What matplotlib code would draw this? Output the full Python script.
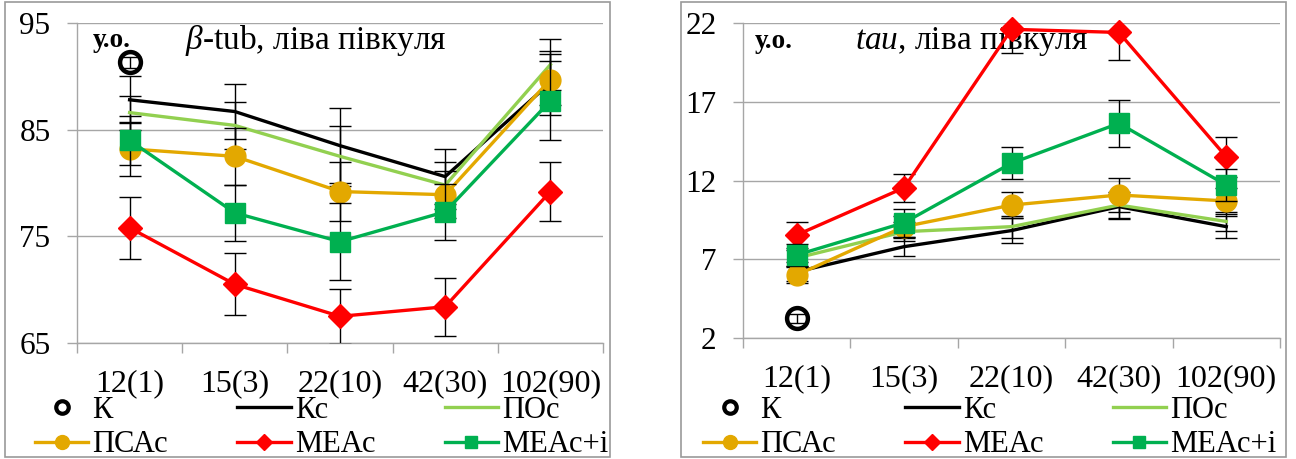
import matplotlib
matplotlib.use('Agg')
import matplotlib.pyplot as plt
from matplotlib.lines import Line2D
from matplotlib.patches import Rectangle

plt.rcParams['font.family'] = ['Liberation Serif', 'DejaVu Serif']
plt.rcParams['mathtext.fontset'] = 'custom'
plt.rcParams['mathtext.it'] = 'Liberation Serif:italic'
plt.rcParams['mathtext.rm'] = 'Liberation Serif'

CATS = ['12(1)', '15(3)', '22(10)', '42(30)', '102(90)']
X = [1, 2, 3, 4, 5]

# beta-tub, left hemisphere
TUB_K = [91.3]
TUB_K_ERR = [0.5]
TUB_KC = [87.8, 86.7, 83.5, 80.6, 89.4]
TUB_KC_ERR = [2.2, 2.6, 3.5, 2.6, 3.0]
TUB_POC = [86.6, 85.4, 82.5, 79.8, 91.1]
TUB_POC_ERR = [1.6, 2.2, 2.8, 2.2, 2.4]
TUB_PSAC = [83.2, 82.5, 79.2, 78.9, 89.7]
TUB_PSAC_ERR = [2.5, 2.7, 2.8, 2.2, 2.4]
TUB_MEAC = [75.8, 70.5, 67.5, 68.4, 79.2]
TUB_MEAC_ERR = [2.9, 2.9, 2.6, 2.7, 2.8]
TUB_MEACI = [84.0, 77.2, 74.5, 77.3, 87.7]
TUB_MEACI_ERR = [2.3, 2.6, 3.6, 2.6, 3.7]

# tau, left hemisphere
TAU_K = [3.25]
TAU_K_ERR = [0.3]
TAU_KC = [6.2, 7.8, 8.82, 10.34, 9.07]
TAU_KC_ERR = [0.6, 0.6, 0.8, 0.8, 0.7]
TAU_POC = [7.08, 8.75, 9.07, 10.44, 9.4]
TAU_POC_ERR = [0.5, 0.6, 0.7, 0.8, 0.6]
TAU_PSAC = [6.0, 9.07, 10.44, 11.08, 10.7]
TAU_PSAC_ERR = [0.5, 0.7, 0.8, 1.06, 0.8]
TAU_MEAC = [8.54, 11.54, 21.6, 21.4, 13.5]
TAU_MEAC_ERR = [0.8, 0.9, 1.5, 1.76, 1.27]
TAU_MEACI = [7.27, 9.32, 13.1, 15.63, 11.71]
TAU_MEACI_ERR = [0.7, 0.9, 1.0, 1.48, 1.0]

C_KC = 'black'
C_POC = '#92D050'
C_PSAC = '#E3A800'
C_MEAC = '#FF0000'
C_MEACI = '#00B050'
GRID = '#A6A6A6'

fig = plt.figure(figsize=(12.96, 4.59), dpi=100)

# chart frames
for x0 in (5, 681):
    fig.patches.append(Rectangle((x0 / 1296, 2 / 459), 605 / 1296, 455 / 459,
                                 transform=fig.transFigure, fill=False,
                                 edgecolor='#9A9A9A', linewidth=1.2))

ax1 = fig.add_axes([77 / 1296, (459 - 343) / 459, 526 / 1296, 320 / 459])
ax2 = fig.add_axes([743 / 1296, (459 - 338) / 459, 537 / 1296, 315 / 459])


def draw(ax, k, k_err, series, ylim, yticks):
    ax.errorbar([1], k, yerr=k_err, fmt='none', ecolor='black', elinewidth=1,
                capsize=8, capthick=1, zorder=3)
    ax.plot([1], k, 'o', ms=15, mfc='none', mec='black', mew=3.2,
            zorder=3, clip_on=False)
    z = 4
    for vals, errs, color, marker, ms in series:
        ax.errorbar(X, vals, yerr=errs, fmt='none', ecolor='black',
                    elinewidth=1, capsize=8, capthick=1, zorder=z)
        ax.plot(X, vals, color=color, lw=2.4, marker=marker, ms=ms,
                mec=color, zorder=z + 0.5, clip_on=False)
        z += 1
    ax.set_xlim(0.5, 5.5)
    ax.set_ylim(*ylim)
    ax.set_yticks(yticks)
    ax.set_xticks(X)
    ax.set_xticklabels(CATS)
    ax.set_xticks([0.5, 1.5, 2.5, 3.5, 4.5, 5.5], minor=True)
    ax.tick_params(axis='x', which='major', length=0, pad=19, labelsize=23)
    ax.tick_params(axis='x', which='minor', length=7, width=1, color=GRID)
    ax.tick_params(axis='y', length=7, width=1, color=GRID, labelsize=22.5, pad=12)
    ax.grid(axis='y', color=GRID, lw=1)
    ax.set_axisbelow(True)
    for s in ('top', 'right'):
        ax.spines[s].set_visible(False)
    for s in ('left', 'bottom'):
        ax.spines[s].set_color(GRID)
        ax.spines[s].set_linewidth(1)


draw(ax1, TUB_K, TUB_K_ERR, [
    (TUB_KC, TUB_KC_ERR, C_KC, None, 0),
    (TUB_POC, TUB_POC_ERR, C_POC, None, 0),
    (TUB_PSAC, TUB_PSAC_ERR, C_PSAC, 'o', 15),
    (TUB_MEAC, TUB_MEAC_ERR, C_MEAC, 'D', 12),
    (TUB_MEACI, TUB_MEACI_ERR, C_MEACI, 's', 14),
], (65, 95), [65, 75, 85, 95])

draw(ax2, TAU_K, TAU_K_ERR, [
    (TAU_KC, TAU_KC_ERR, C_KC, None, 0),
    (TAU_POC, TAU_POC_ERR, C_POC, None, 0),
    (TAU_PSAC, TAU_PSAC_ERR, C_PSAC, 'o', 15),
    (TAU_MEAC, TAU_MEAC_ERR, C_MEAC, 'D', 12),
    (TAU_MEACI, TAU_MEACI_ERR, C_MEACI, 's', 14),
], (2, 22), [2, 7, 12, 17, 22])

ax1.text(0.029, 0.945, 'у.о.', transform=ax1.transAxes, fontsize=19.5,
         fontweight='bold', va='center', ha='left')
ax1.text(0.205, 0.945, r'$\beta$-tub, ліва півкуля', transform=ax1.transAxes,
         fontsize=24, va='center', ha='left')
ax2.text(0.022, 0.94, 'у.о.', transform=ax2.transAxes, fontsize=19.5,
         fontweight='bold', va='center', ha='left')
ax2.text(0.209, 0.94, r'$tau$, ліва півкуля', transform=ax2.transAxes,
         fontsize=24, va='center', ha='left')

# legends
handles = [
    Line2D([], [], ls='none', marker='o', ms=9, mfc='none', mec='black', mew=3),
    Line2D([], [], color=C_PSAC, lw=2.4, marker='o', ms=10),
    Line2D([], [], color=C_KC, lw=2.4),
    Line2D([], [], color=C_MEAC, lw=2.4, marker='D', ms=8),
    Line2D([], [], color=C_POC, lw=2.4),
    Line2D([], [], color=C_MEACI, lw=2.4, marker='s', ms=9),
]
labels = ['К', 'ПСАс', 'Кс', 'МЕАс', 'ПОс', 'МЕАс+і']
for x0 in (35, 703):
    fig.legend(handles, labels, ncol=3, loc='upper left',
               bbox_to_anchor=(x0 / 1296, (459 - 396) / 459),
               frameon=False, fontsize=22, handlelength=1.75,
               handletextpad=0.13, columnspacing=2.27, labelspacing=0.17,
               borderpad=0, borderaxespad=0)

fig.savefig('out.png', dpi=100)
